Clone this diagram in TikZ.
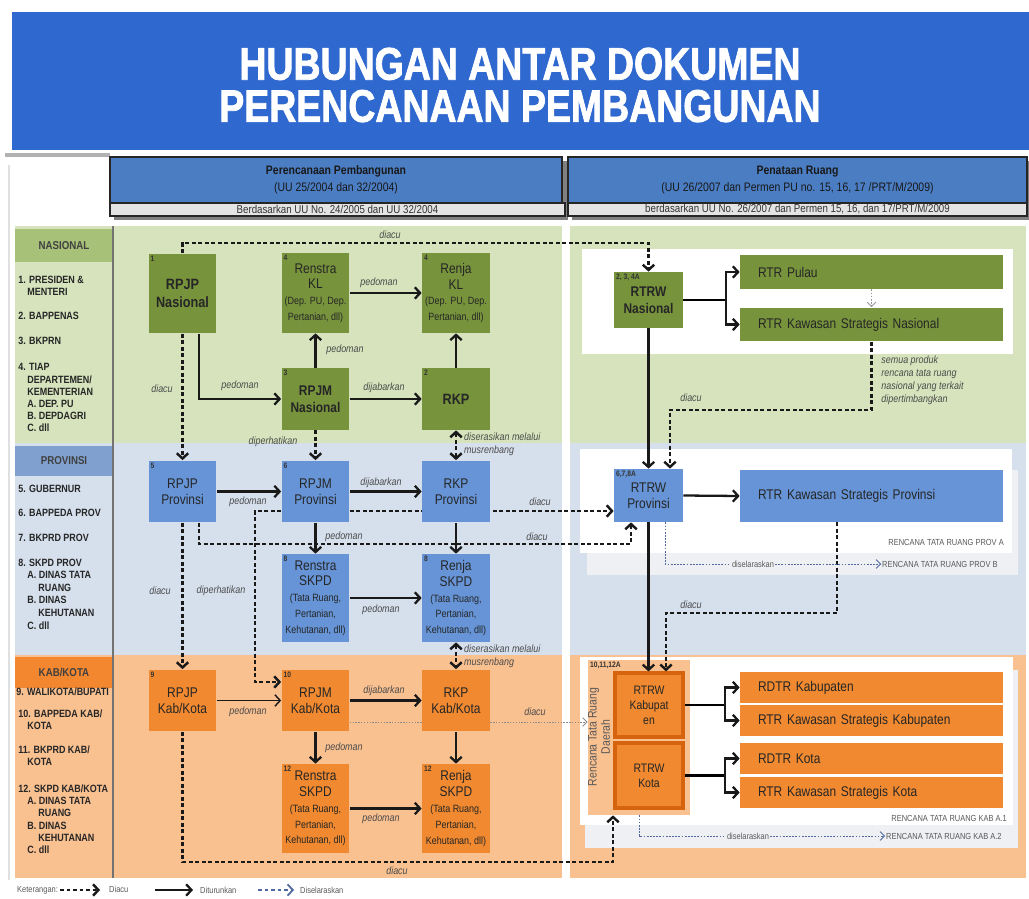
\documentclass[tikz,border=0pt]{standalone}
\usepackage{fontspec}
\setmainfont{Liberation Sans}
\newfontfamily\narrowfont[FakeStretch=0.85]{Liberation Sans}
\newfontfamily\titlefont[FakeStretch=0.82,FakeBold=1.6]{Liberation Sans}
\usetikzlibrary{arrows.meta,calc,positioning}

\definecolor{titleblue}{RGB}{47,105,207}
\definecolor{headblue}{RGB}{75,125,195}
\definecolor{stripgray}{RGB}{228,228,228}
\definecolor{nasband}{RGB}{214,227,188}
\definecolor{provband}{RGB}{214,224,237}
\definecolor{kabband}{RGB}{249,192,144}
\definecolor{nashead}{RGB}{168,193,120}
\definecolor{provhead}{RGB}{128,161,207}
\definecolor{kabhead}{RGB}{243,135,48}
\definecolor{nasbox}{RGB}{119,147,60}
\definecolor{provbox}{RGB}{102,148,214}
\definecolor{kabbox}{RGB}{240,137,47}
\definecolor{kabedge}{RGB}{214,100,15}
\definecolor{selarasblue}{RGB}{80,105,160}
\definecolor{pagegray}{RGB}{238,240,243}

% smaller second part of a document name
\newcommand{\docsub}[1]{{\fontsize{6}{8}\selectfont #1}}

\pgfdeclarelayer{bands}
\pgfdeclarelayer{behind}
\pgfsetlayers{bands,behind,main}

\tikzset{
  doc/.style={font=\narrowfont\fontsize{8}{9}\selectfont, text=black!85,
    align=center, inner sep=0pt, minimum width=1.36cm, minimum height=1.24cm},
  nasdoc/.style={doc, fill=nasbox},
  provdoc/.style={doc, fill=provbox},
  kabdoc/.style={doc, fill=kabbox},
  rtrbox/.style={font=\narrowfont\fontsize{8}{9}\selectfont, text=black!85,
    align=left, inner sep=0pt, minimum width=5.26cm, minimum height=0.68cm,
    text width=4.54cm},
  numlbl/.style={font=\narrowfont\bfseries\fontsize{4.5}{5}\selectfont,
    text=black!80, anchor=north west, inner sep=1.2pt},
  turun/.style={line width=1.3pt, black!90, -{Straight Barb[length=3pt,width=6.5pt]}},
  diacu/.style={line width=1.4pt, black!90, dash pattern=on 2.2pt off 1.5pt},
  diacuarr/.style={diacu, -{Straight Barb[length=3pt,width=6.5pt]}},
  diacuboth/.style={diacu,
    {Straight Barb[length=3pt,width=6.5pt]}-{Straight Barb[length=3pt,width=6.5pt]}},
  selaras/.style={line width=0.5pt, selarasblue, dash pattern=on 1pt off 0.8pt,
    -{Straight Barb[length=2.5pt,width=5pt]}},
  lbl/.style={font=\narrowfont\itshape\fontsize{6}{7.4}\selectfont, text=black!70,
    inner sep=0.5pt},
  lvl/.style={font=\narrowfont\bfseries\fontsize{6}{7}\selectfont, text=black!85,
    anchor=west, inner sep=0pt},
  lvlhead/.style={font=\narrowfont\bfseries\fontsize{6.5}{8}\selectfont,
    text=black!75, minimum width=1.96cm, inner sep=0pt},
  tinytxt/.style={font=\narrowfont\fontsize{5}{6}\selectfont, text=black!65,
    inner sep=0.5pt},
  headbox/.style={fill=headblue, draw=black!85, line width=0.8pt,
    font=\narrowfont\fontsize{7}{9.6}\selectfont, text=black!90, align=center,
    inner sep=0pt, minimum height=0.92cm},
  stripbox/.style={fill=stripgray, draw=black!85, line width=0.8pt,
    font=\narrowfont\fontsize{6.5}{7}\selectfont, text=black!80, inner sep=0pt,
    minimum height=0.26cm},
  titletxt/.style={font=\titlefont\bfseries\fontsize{26}{24}\selectfont,
    align=center, inner sep=0pt},
}

\begin{document}
\begin{tikzpicture}[x=0.02cm, y=-0.02cm]  % one unit = one pixel, y grows downwards
  \useasboundingbox (0,0) rectangle (1029,899);

  % title band
  \fill[titleblue] (12,12) rectangle (1029,150);
  \fill[black!30] (5,153) rectangle (110,157);
  \node[titletxt, text=white] (title) at (520,85)
    {HUBUNGAN ANTAR DOKUMEN\\PERENCANAAN PEMBANGUNAN};

  % column headers with their shadows
  \fill[black!50] (114,161) rectangle (568,220);
  \fill[black!50] (572,161) rectangle (1029,220);
  \node[headbox, minimum width=9.04cm] (headPlan) at (336,180)
    {{\bfseries Perencanaan Pembangunan}\\(UU 25/2004 dan 32/2004)};
  \node[stripbox, minimum width=9.1cm] (basisPlan) at (337.5,209.5)
    {Berdasarkan UU No. 24/2005 dan UU 32/2004};
  \node[headbox, minimum width=9.18cm] (headSpace) at (797.5,180)
    {{\bfseries Penataan Ruang}\\(UU 26/2007 dan Permen PU no. 15, 16, 17 /PRT/M/2009)};
  \node[stripbox, minimum width=9.18cm] (basisSpace) at (797.5,209.5)
    {berdasarkan UU No. 26/2007 dan Permen 15, 16, dan 17/PRT/M/2009};

  \begin{pgfonlayer}{bands}
    % level bands
    \fill[nasband] (15,226) rectangle (562,443);
    \fill[provband] (15,443) rectangle (562,655);
    \fill[kabband] (15,655) rectangle (562,878);
    \fill[nasband] (570,226) rectangle (1026,443);
    \fill[provband] (570,443) rectangle (1026,655);
    \fill[kabband] (570,655) rectangle (1026,878);
    % sheets of the spatial plans
    \fill[white] (582,249) rectangle (1013,354);
    \fill[pagegray] (587,470) rectangle (1018,575);
    \fill[white] (580,449) rectangle (1012,553);
    \fill[pagegray] (585,670) rectangle (1018,848);
    \fill[white] (580,657) rectangle (1013,825);
    \draw[black!12, line width=1pt] (9,165) -- (9,880);
  \end{pgfonlayer}

  % level column
  \node[lvlhead, fill=nashead, minimum height=0.66cm] (hNas) at (64,245.5) {NASIONAL};
  \node[lvlhead, fill=provhead, minimum height=0.6cm] (hProv) at (64,461) {PROVINSI};
  \node[lvlhead, fill=kabhead, minimum height=0.62cm] (hKab) at (64,672.5) {KAB/KOTA};
  \draw[black!55, line width=0.7pt] (113,226) -- (113,878);
  \foreach \x/\y/\t [count=\i] in {
      18/280/{1. PRESIDEN \&}, 27/292/MENTERI, 18/316/{2. BAPPENAS},
      18/341/{3. BKPRN}, 18/367/{4. TIAP}, 27/380/{DEPARTEMEN/},
      27/392/KEMENTERIAN, 27/404/{A. DEP. PU}, 27/416/{B. DEPDAGRI},
      27/428/{C. dll},
      18/489/{5. GUBERNUR}, 18/513/{6. BAPPEDA PROV}, 18/538/{7. BKPRD PROV},
      18/563/{8. SKPD PROV}, 27/575/{A. DINAS TATA}, 38/588/RUANG,
      27/600/{B. DINAS}, 38/613/KEHUTANAN, 27/626/{C. dll},
      16/692/{9. WALIKOTA/BUPATI}, 18/714/{10. BAPPEDA KAB/}, 27/726/KOTA,
      18/750/{11. BKPRD KAB/}, 27/762/KOTA, 18/789/{12. SKPD KAB/KOTA},
      27/801/{A. DINAS TATA}, 38/813/RUANG, 27/826/{B. DINAS},
      38/838/KEHUTANAN, 27/850/{C. dll}}
    \node[lvl] (lv\i) at (\x,\y) {\t};

  % development planning documents
  \node[nasdoc, minimum height=1.6cm, font=\narrowfont\bfseries\fontsize{8.5}{10}\selectfont]
    (rpjpNas) at (182.5,293.5) {RPJP\\Nasional};
  \node[nasdoc, minimum height=1.6cm] (renstraKL) at (315.5,293)
    {Renstra\\KL\\\docsub{(Dep. PU, Dep.}\\\docsub{Pertanian, dll)}};
  \node[nasdoc, minimum height=1.6cm] (renjaKL) at (456,293)
    {Renja\\KL\\\docsub{(Dep. PU, Dep.}\\\docsub{Pertanian, dll)}};
  \node[nasdoc, font=\narrowfont\bfseries\fontsize{8}{9.5}\selectfont]
    (rpjmNas) at (315.5,399) {RPJM\\Nasional};
  \node[nasdoc, font=\narrowfont\bfseries\fontsize{8.5}{9.5}\selectfont]
    (rkpNas) at (456,399) {RKP};

  \node[provdoc] (rpjpProv) at (182.5,491.5) {RPJP\\Provinsi};
  \node[provdoc] (rpjmProv) at (315.5,491.5) {RPJM\\Provinsi};
  \node[provdoc] (rkpProv) at (456,491.5) {RKP\\Provinsi};
  \node[provdoc, minimum height=1.76cm] (renstraProv) at (315.5,598)
    {Renstra\\SKPD\\\docsub{(Tata Ruang,}\\\docsub{Pertanian,}\\\docsub{Kehutanan, dll)}};
  \node[provdoc, minimum height=1.76cm] (renjaProv) at (456,598)
    {Renja\\SKPD\\\docsub{(Tata Ruang,}\\\docsub{Pertanian,}\\\docsub{Kehutanan, dll)}};

  \node[kabdoc] (rpjpKab) at (182.5,700.5) {RPJP\\Kab/Kota};
  \node[kabdoc] (rpjmKab) at (315.5,700.5) {RPJM\\Kab/Kota};
  \node[kabdoc] (rkpKab) at (456,700.5) {RKP\\Kab/Kota};
  \node[kabdoc, minimum height=1.78cm] (renstraKab) at (315.5,808.5)
    {Renstra\\SKPD\\\docsub{(Tata Ruang,}\\\docsub{Pertanian,}\\\docsub{Kehutanan, dll)}};
  \node[kabdoc, minimum height=1.78cm] (renjaKab) at (456,808.5)
    {Renja\\SKPD\\\docsub{(Tata Ruang,}\\\docsub{Pertanian,}\\\docsub{Kehutanan, dll)}};

  % spatial plans
  \node[nasdoc, minimum width=1.38cm, minimum height=1.12cm,
    font=\narrowfont\bfseries\fontsize{8}{9.5}\selectfont] (rtrwNas) at (648.5,300) {RTRW\\Nasional};
  \node[rtrbox, fill=nasbox] (rtrPulau) at (871.5,272) {RTR Pulau};
  \node[rtrbox, fill=nasbox] (rtrKSN) at (871.5,324.5) {RTR Kawasan Strategis Nasional};

  \node[provdoc, minimum width=1.38cm, minimum height=1.06cm] (rtrwProv) at (648.5,495.5) {RTRW\\Provinsi};
  \node[rtrbox, fill=provbox, minimum height=1.04cm] (rtrKSP) at (871.5,496) {RTR Kawasan Strategis Provinsi};

  \node[fill=kabband, minimum width=2.04cm, minimum height=3.1cm, inner sep=0pt]
    (rtrDaerah) at (639,737.5) {};
  \node[rotate=90, font=\narrowfont\fontsize{7}{7.5}\selectfont, text=black!65, align=center,
    inner sep=0pt] (daerahTxt) at (599,737) {Rencana Tata Ruang\\Daerah};
  \node[kabdoc, draw=kabedge, line width=1.8pt, minimum height=1.28cm,
    font=\narrowfont\fontsize{7}{8.5}\selectfont] (rtrwKab) at (649,705) {RTRW\\Kabupat\\en};
  \node[kabdoc, draw=kabedge, line width=1.8pt, minimum height=1.3cm,
    font=\narrowfont\fontsize{7}{8.5}\selectfont] (rtrwKota) at (649,775.5) {RTRW\\Kota};
  \node[rtrbox, fill=kabbox, minimum height=0.62cm] (rdtrKab) at (871.5,687.5) {RDTR Kabupaten};
  \node[rtrbox, fill=kabbox, minimum height=0.62cm] (rtrKSKab) at (871.5,720.5) {RTR Kawasan Strategis Kabupaten};
  \node[rtrbox, fill=kabbox, minimum height=0.62cm] (rdtrKota) at (871.5,758.5) {RDTR Kota};
  \node[rtrbox, fill=kabbox, minimum height=0.62cm] (rtrKSKota) at (871.5,792.5) {RTR Kawasan Strategis Kota};

  % small reference numbers in the corners
  \foreach \n/\t in {rpjpNas/1, renstraKL/4, renjaKL/4, rpjmNas/3, rkpNas/2,
      rpjpProv/5, rpjmProv/6, renstraProv/8, renjaProv/8, rpjpKab/9,
      rpjmKab/10, renstraKab/12, renjaKab/12, rtrwNas/{2, 3, 4A},
      rtrwProv/{6,7,8A}, rtrDaerah/{10,11,12A}}
    \node[numlbl] (num-\n) at (\n.north west) {\t};

  % plan sheets of the neighbouring regions
  \node[tinytxt, anchor=east] (provA) at (1005,542) {RENCANA TATA RUANG PROV A};
  \node[tinytxt, anchor=west] (provB) at (881,564) {RENCANA TATA RUANG PROV B};
  \node[tinytxt, anchor=east] (kabA1) at (1008,818) {RENCANA TATA RUANG KAB A.1};
  \node[tinytxt, anchor=west] (kabA2) at (885,836) {RENCANA TATA RUANG KAB A.2};

  % derived documents (solid)
  \draw[turun] ($(rpjpNas.south)+(16.5,0)$) |- (rpjmNas.west);
  \draw[turun] (rpjmNas.north) -- (renstraKL.south);
  \draw[turun] (renstraKL.east) -- (renjaKL.west);
  \draw[turun] (rpjmNas.east) -- (rkpNas.west);
  \draw[turun] (rkpNas.north) -- (renjaKL.south);
  \draw[turun] (rpjpProv.east) -- (rpjmProv.west);
  \draw[turun] (rpjmProv.east) -- (rkpProv.west);
  \draw[turun] (rpjmProv.south) -- (renstraProv.north);
  \draw[turun] (rkpProv.south) -- (renjaProv.north);
  \draw[turun] (renstraProv.east) -- (renjaProv.west);
  \draw[turun, line width=0.8pt] (rpjpKab.east) -- (rpjmKab.west);
  \draw[turun] (rpjmKab.east) -- (rkpKab.west);
  \draw[turun] (rpjmKab.south) -- (renstraKab.north);
  \draw[turun] (rkpKab.south) -- (renjaKab.north);
  \draw[turun] (renstraKab.east) -- (renjaKab.west);

  \coordinate (forkN) at (726,300);
  \coordinate (forkK) at (725,705);
  \coordinate (forkC) at (725,775.5);
  \draw[line width=1.3pt] (rtrwNas.east) -- (forkN);
  \draw[turun] (forkN) |- (rtrPulau.west);
  \draw[turun] (forkN) |- (rtrKSN.west);
  \draw[turun] (rtrwNas.south) -- (rtrwProv.north);
  \draw[turun] (rtrwProv.east) -- (rtrKSP.west);
  \draw[turun] (rtrwProv.south) -- (rtrwProv.south |- rtrwKab.north);
  \draw[line width=1.3pt] (rtrwKab.east) -- (forkK);
  \draw[turun] (forkK) |- (rdtrKab.west);
  \draw[turun] (forkK) |- (rtrKSKab.west);
  \draw[line width=1.3pt] (rtrwKota.east) -- (forkC);
  \draw[turun] (forkC) |- (rdtrKota.west);
  \draw[turun] (forkC) |- (rtrKSKota.west);

  % referred documents (dashed)
  \coordinate (railTop) at (0,243);
  \coordinate (railN) at (670,410);
  \coordinate (railP) at (199,544);
  \coordinate (perhP) at (255,511);
  \coordinate (perhK) at (255,682);
  \coordinate (railK) at (666,613);
  \coordinate (railB) at (613,862);
  \draw[diacuarr] (rpjpNas.north) |- (rtrwNas.north |- railTop) -- (rtrwNas.north);
  \draw[diacuarr] (rpjpNas.south) -- (rpjpProv.north);
  \draw[diacuarr] (rpjmNas.south) -- (rpjmProv.north);
  \draw[diacuboth] (rkpNas.south) -- (rkpProv.north);
  \draw[diacuarr] (rtrKSN.south) |- (railN) -- (railN |- rtrwProv.north);
  \draw[diacuarr] (rpjpProv.south) -- (rpjpKab.north);
  \draw[diacuarr] (railP |- rpjpProv.south) -- (railP) -| ($(rtrwProv.south)+(-17.5,0)$);
  \draw[diacuarr] (rpjmProv.west |- perhP) -- (perhP) -- (perhK) -- (rpjmKab.west |- perhK);
  \begin{pgfonlayer}{behind}
    \draw[diacuarr] (rpjmProv.east |- perhP) -- (rtrwProv.west |- perhP);
    \draw[selaras, black!45, dash pattern=on 0.8pt off 0.8pt] (rpjmKab.east |- 0,722)
      coordinate (acuK) -- (acuK -| rtrDaerah.west);
  \end{pgfonlayer}
  \draw[diacuboth] (renjaProv.south) -- (rkpKab.north);
  \draw[diacuarr] ($(rtrKSP.south)+(-34.5,0)$) |- (railK) -- (railK |- rtrwKab.north);
  \draw[diacuarr] (rpjpKab.south) |- (railB) -- (railB |- rtrDaerah.south);

  % harmonised plans (dotted)
  \coordinate (selP) at (665,564);
  \coordinate (selK) at (639,836);
  \draw[selaras, black!40] (rtrPulau.south) -- (rtrKSN.north);
  \draw[selaras] (selP |- rtrwProv.south) -- (selP) -- (provB.west);
  \draw[selaras] (selK |- rtrDaerah.south) -- (selK) -- (kabA2.west);
  \node[tinytxt, fill=pagegray] (lSelP) at (753,564) {diselaraskan};
  \node[tinytxt, fill=pagegray] (lSelK) at (748,836) {diselaraskan};

  % connector labels
  \node[lbl] (lAcuTop) at (390,235) {diacu};
  \node[lbl] (lPed1) at (240,386) {pedoman};
  \node[lbl] (lPed2) at (379,283) {pedoman};
  \node[lbl] (lPed3) at (345,350) {pedoman};
  \node[lbl] (lJab1) at (384,388) {dijabarkan};
  \node[lbl] (lAcu1) at (162,389) {diacu};
  \node[lbl] (lPerh1) at (273,442) {diperhatikan};
  \node[lbl, align=left, anchor=west] (lSerasi1) at (463,444) {diserasikan melalui\\musrenbang};
  \node[lbl] (lPed4) at (248,502) {pedoman};
  \node[lbl] (lJab2) at (381,483) {dijabarkan};
  \node[lbl] (lAcu2) at (540,502) {diacu};
  \node[lbl] (lPed5) at (344,537) {pedoman};
  \node[lbl] (lAcu3) at (537,537) {diacu};
  \node[lbl] (lAcu4) at (160,591) {diacu};
  \node[lbl] (lPerh2) at (221,591) {diperhatikan};
  \node[lbl] (lPed6) at (381,610) {pedoman};
  \node[lbl, align=left, anchor=west] (lSerasi2) at (463,656) {diserasikan melalui\\musrenbang};
  \node[lbl] (lPed7) at (248,712) {pedoman};
  \node[lbl] (lJab3) at (384,691) {dijabarkan};
  \node[lbl] (lAcu5) at (535,712) {diacu};
  \node[lbl] (lPed8) at (344,748) {pedoman};
  \node[lbl] (lPed9) at (381,819) {pedoman};
  \node[lbl] (lAcu6) at (397,871) {diacu};
  \node[lbl] (lAcu7) at (691,398) {diacu};
  \node[lbl] (lAcu8) at (691,605) {diacu};
  \node[lbl, align=left, anchor=north west, inner sep=0pt] (lSemua) at (881,356)
    {semua produk\\rencana tata ruang\\nasional yang terkait\\dipertimbangkan};

  % legend
  \node[tinytxt, anchor=west] (ket) at (16,890) {Keterangan:};
  \coordinate (lgA1) at (60,890);
  \coordinate (lgA2) at (100,890);
  \coordinate (lgB1) at (155,890);
  \coordinate (lgB2) at (193,890);
  \coordinate (lgC1) at (258,890);
  \coordinate (lgC2) at (294,890);
  \draw[diacuarr] (lgA1) -- (lgA2);
  \node[tinytxt, anchor=west] (lgAcu) at (108,889) {Diacu};
  \draw[turun] (lgB1) -- (lgB2);
  \node[tinytxt, anchor=west] (lgTurun) at (199,890) {Diturunkan};
  \draw[diacuarr, selarasblue, line width=1pt] (lgC1) -- (lgC2);
  \node[tinytxt, anchor=west] (lgSelaras) at (299,890) {Diselaraskan};
\end{tikzpicture}
\end{document}
